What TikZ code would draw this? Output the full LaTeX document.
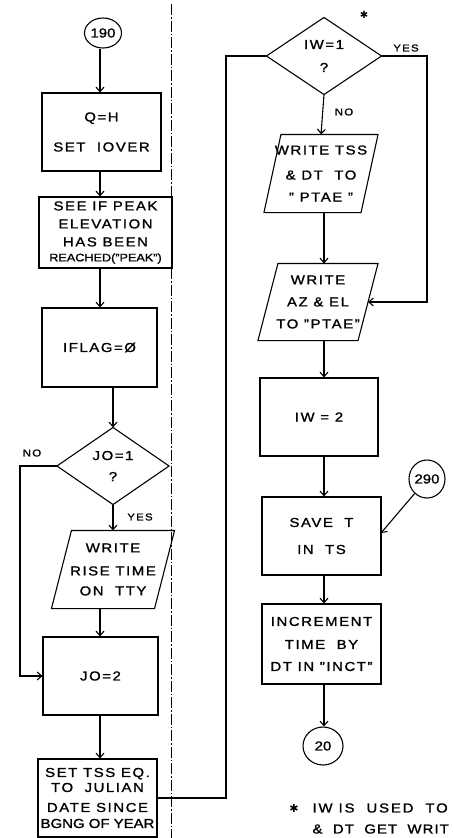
\documentclass[tikz,border=0pt]{standalone}
\usepackage{fontspec}
\setmainfont{Liberation Sans}[FakeStretch=1.15,LetterSpace=12,FakeBold=1.2]
\newfontfamily\symfont{DejaVu Sans}
\usetikzlibrary{arrows.meta,shapes.geometric}
\newcommand\mypara[2]{\draw ([xshift=#2]#1.north west) -- ([xshift=#2]#1.north east) -- ([xshift=-#2]#1.south east) -- ([xshift=-#2]#1.south west) -- cycle;}
\tikzset{
  txt/.style={font=\fontsize{13}{15}\selectfont, align=center, inner sep=0pt, text=black},
  box/.style={txt, draw, rectangle},
  ghost/.style={txt, rectangle},
  ell/.style={draw, ellipse, inner sep=0pt, font=\fontsize{13}{15}\selectfont\addfontfeature{LetterSpace=0}},
  lab/.style={font=\fontsize{10}{12}\selectfont, inner sep=0pt},
  arr/.style={-{Straight Barb[length=4.5pt,width=8pt]}},
  sep/.style={line width=0.9pt, dash pattern=on 11pt off 2pt on 1.5pt off 2pt}
}
\begin{document}
\begin{tikzpicture}[x=1pt,y=-1pt,line width=1.1pt]
\clip (0,0) rectangle (454,838);
\useasboundingbox (0,0) rectangle (454,838);
\fill[white] (0,0) rectangle (454,838);

% guide coordinates
\coordinate (L) at (100,0);
\coordinate (M) at (113,0);
\coordinate (R) at (324,0);
\coordinate (XL) at (20,0);
\coordinate (XR) at (226,0);
\coordinate (XY) at (427,0);

% separator
\coordinate (sepT) at (171,4);
\coordinate (sepB) at (171,838);
\draw[sep] (sepT) -- (sepB);

% left column
\node[ell, minimum width=37pt, minimum height=30pt] (c190) at (103,33) {190};
\node[box, minimum width=119pt, minimum height=78pt] (b1) at (101.5,132) {Q=H\\[15pt]SET\ \ IOVER};
\node[box, minimum width=133pt, minimum height=71pt] (b2) at (105.5,232.5) {SEE IF PEAK\\[3pt]ELEVATION\\[3pt]HAS BEEN\\[0pt]{\fontsize{11}{13}\selectfont\addfontfeature{LetterSpace=0}REACHED("PEAK")}};
\node[box, minimum width=115pt, minimum height=79pt] (b3) at (99.5,347.5) {IFLAG=Ø};
\node[ghost, minimum width=111pt, minimum height=76pt] (d1) at (113,466) {JO=1\\[6pt]?};
\draw (d1.north) -- (d1.east) -- (d1.south) -- (d1.west) -- cycle;
\node[ghost, minimum width=102pt, minimum height=77pt] (p1) at (113,569.5) {WRITE\\[8pt]RISE TIME\\[5pt]ON\ \ TTY};
\mypara{p1}{10pt}
\node[box, minimum width=115pt, minimum height=78pt] (b4) at (100.5,676) {JO=2};
\node[box, minimum width=119pt, minimum height=78pt] (b5) at (97.5,798) {SET TSS EQ.\\[0pt]TO\ \ JULIAN\\[5pt]DATE SINCE\\[1pt]{\addfontfeature{LetterSpace=0}BGNG OF YEAR}};

% right column
\node[ghost, minimum width=114pt, minimum height=76pt] (d2) at (324,56) {IW=1\\[8pt]?};
\draw (d2.north) -- (d2.east) -- (d2.south) -- (d2.west) -- cycle;
\node[ghost, minimum width=96pt, minimum height=77pt] (p2) at (321,173.5) {WRITE TSS\\[10pt]\&\ DT\ \ TO\\[7pt]"\ PTAE\ "};
\mypara{p2}{8.5pt}
\node[ghost, minimum width=99pt, minimum height=76pt] (p3) at (318,302) {WRITE\\[7pt]AZ \& EL\\[7pt]TO "PTAE"};
\mypara{p3}{10pt}
\node[box, minimum width=118pt, minimum height=78pt] (b6) at (319,417) {IW = 2};
\node[box, minimum width=119pt, minimum height=78pt] (b7) at (321.5,536) {SAVE\ \ T\\[12pt]IN\ \ TS};
\node[ell, minimum width=36pt, minimum height=38pt] (c290) at (427,479) {290};
\node[box, minimum width=119pt, minimum height=80pt] (b8) at (321.5,644) {INCREMENT\\[8pt]TIME\ \ BY\\[7pt]DT IN "INCT"};
\node[ell, minimum width=40pt, minimum height=38pt] (c20) at (323,746) {20};

% labels
\node[lab] (no1) at (32,453) {NO};
\node[lab] (yes1) at (140,517) {YES};
\node[lab] (yes2) at (406,48) {YES};
\node[lab] (no2) at (344,112) {NO};
\node[font=\symfont\fontsize{10}{12}\selectfont, inner sep=0pt] (ast1) at (364,15) {✱};

% footnote
\node[font=\symfont\fontsize{11}{12}\selectfont, inner sep=0pt] (ast2) at (294,808) {✱};
\node[font=\fontsize{13}{15}\selectfont\addfontfeature{LetterSpace=14}, anchor=west, inner sep=0pt] (fn1) at (312,808) {IW\ IS\ \ USED\ \ TO};
\node[font=\fontsize{13}{15}\selectfont\addfontfeature{LetterSpace=8}, anchor=west, inner sep=0pt] (fn2) at (312,829) {\&\ \ DT\ \ GET\ \ WRIT};

% connectors left
\coordinate (s290) at (381,533);
\draw[arr] (L |- c190.south) -- (L |- b1.north);
\draw[arr] (L |- b1.south) -- (L |- b2.north);
\draw[arr] (L |- b2.south) -- (L |- b3.north);
\draw[arr] (M |- b3.south) -- (d1.north);
\draw[arr] (d1.south) -- (p1.north);
\draw[arr] (L |- p1.south) -- (L |- b4.north);
\draw[arr] (L |- b4.south) -- (L |- b5.north);
\draw[arr] (d1.west) -- (XL |- d1.west) -- (XL |- b4.west) -- (b4.west);
\draw (b5.east) -- (XR |- b5.east) -- (XR |- d2.west) -- (d2.west);

% connectors right
\draw[arr] (d2.east) -- (XY |- d2.east) -- (XY |- p3.east) -- (p3.east);
\draw[arr] (d2.south) -- (p2.north);
\draw[arr] (R |- p2.south) -- (R |- p3.north);
\draw[arr] (R |- p3.south) -- (R |- b6.north);
\draw[arr] (R |- b6.south) -- (R |- b7.north);
\draw[arr] (c290) -- (s290);
\draw[arr] (R |- b7.south) -- (R |- b8.north);
\draw[arr] (R |- b8.south) -- (R |- c20.north);
\end{tikzpicture}
\end{document}
